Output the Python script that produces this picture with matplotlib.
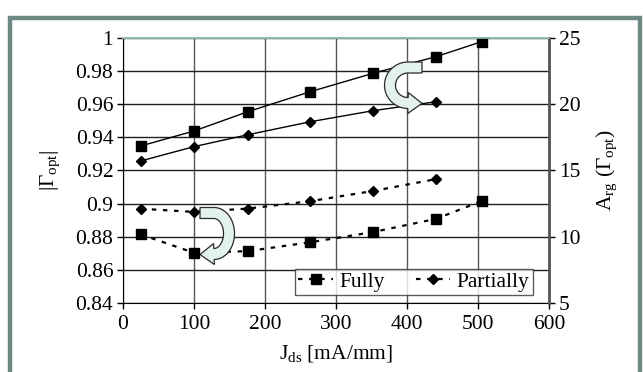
import numpy as np
import matplotlib
matplotlib.use("Agg")
import matplotlib.pyplot as plt
from matplotlib.patches import Rectangle, Polygon
from matplotlib.transforms import IdentityTransform

plt.rcParams['font.family'] = ['Liberation Serif', 'DejaVu Serif']
plt.rcParams['mathtext.fontset'] = 'custom'
plt.rcParams['mathtext.rm'] = 'Liberation Serif'
plt.rcParams['mathtext.it'] = 'Liberation Serif:italic'

# current density [mA/mm]
jds_fully = [25, 100, 176, 264, 352, 441, 505]
jds_partial = [25, 100, 176, 264, 352, 441]

# |Gamma_opt| (left axis, dotted)
mag_fully = [0.8814, 0.8703, 0.8713, 0.8767, 0.8828, 0.8908, 0.9015]
mag_partial = [0.8969, 0.8950, 0.8970, 0.9015, 0.9076, 0.9148]

# Arg(Gamma_opt) (right axis, solid)
arg_fully = [16.85, 17.98, 19.44, 20.95, 22.33, 23.59, 24.72]
arg_partial = [15.72, 16.80, 17.70, 18.68, 19.51, 20.19]

x_ticks = [0, 100, 200, 300, 400, 500, 600]
left_ticks = [0.84, 0.86, 0.88, 0.9, 0.92, 0.94, 0.96, 0.98, 1]
left_labels = ['0.84', '0.86', '0.88', '0.9', '0.92', '0.94', '0.96', '0.98', '1']
right_ticks = [5, 10, 15, 20, 25]

FS = 15.5


def curved_arrow(x_tail, cx, cy, rx, ry, a0, a1, w=11, hw=21, hl=14):
    # straight lead-in + thick elliptic arc (a0 -> a1 deg) + head; pixel coords
    t = np.radians(np.linspace(a0, a1, 60))
    ax_ = cx + rx * np.cos(t)
    ay_ = cy + ry * np.sin(t)
    lead_x = np.linspace(x_tail, ax_[0], 8)[:-1]
    lead_y = np.full_like(lead_x, ay_[0])
    x = np.concatenate([lead_x, ax_])
    y = np.concatenate([lead_y, ay_])
    dx = np.gradient(x)
    dy = np.gradient(y)
    n = np.hypot(dx, dy)
    nx, ny = -dy / n, dx / n
    outer = np.column_stack([x + nx * w / 2, y + ny * w / 2])
    inner = np.column_stack([x - nx * w / 2, y - ny * w / 2])
    ux, uy = dx[-1] / n[-1], dy[-1] / n[-1]
    ex, ey = x[-1], y[-1]
    head = np.array([
        [ex + nx[-1] * hw / 2, ey + ny[-1] * hw / 2],
        [ex + ux * hl, ey + uy * hl],
        [ex - nx[-1] * hw / 2, ey - ny[-1] * hw / 2],
    ])
    pts = np.vstack([outer, head, inner[::-1]])
    return Polygon(pts, closed=True, transform=IdentityTransform(),
                   fc='#e3f2eb', ec='#2a2a2a', lw=0.9, zorder=5)


fig = plt.figure(figsize=(6.43, 3.72), dpi=100)
ax = fig.add_axes([0.1913, 0.1855, 0.6625, 0.7124])
ax2 = ax.twinx()

dots = (0, (2, 3))
l1, = ax.plot(jds_fully, mag_fully, color='black', ls=dots, lw=1.6,
              marker='s', ms=7, label='Fully')
l2, = ax.plot(jds_partial, mag_partial, color='black', ls=dots, lw=1.6,
              marker='D', ms=5.5, label='Partially')
ax2.plot(jds_fully, arg_fully, color='black', lw=1, marker='s', ms=7)
ax2.plot(jds_partial, arg_partial, color='black', lw=1, marker='D', ms=5.5)

ax.set_xlim(0, 600)
ax.set_ylim(0.84, 1)
ax2.set_ylim(5, 25)
ax.set_xticks(x_ticks)
ax.set_yticks(left_ticks)
ax.set_yticklabels(left_labels)
ax2.set_yticks(right_ticks)

ax.grid(True, axis='y', color='#202020', lw=1)
ax.grid(True, axis='x', color='#555555', lw=1)
ax.set_axisbelow(True)

for a in (ax, ax2):
    a.tick_params(labelsize=FS, length=4, width=1, direction='out', pad=3)
    a.spines['top'].set_color('#8dbab0')
    a.spines['top'].set_linewidth(1.2)
ax.tick_params(axis='x', pad=5)
ax.spines['right'].set_visible(False)
ax2.spines['left'].set_visible(False)
ax2.spines['right'].set_color('#555555')
ax2.spines['right'].set_linewidth(2)
ax2.spines['bottom'].set_visible(False)

ax.set_xlabel('J$_{\\mathrm{ds}}$ [mA/mm]', fontsize=FS, labelpad=6)
ax.set_ylabel('|Γ$_{\\mathrm{opt}}$|', fontsize=FS, labelpad=10)
ax2.set_ylabel('A$_{\\mathrm{rg}}$ (Γ$_{\\mathrm{opt}}$)', fontsize=FS, labelpad=10)

# curved arrows pointing to the axis each pair belongs to (pixel coords, origin bottom-left)
fig.patches.append(curved_arrow(422, 408, 372 - 85.25, 18, 17.75, 90, 270))
fig.patches.append(curved_arrow(200, 214, 372 - 233.5, 15, 20.5, 90, -90))

leg = ax2.legend(handles=[l1, l2], loc='lower left', bbox_to_anchor=(0.404, 0.03, 0.558, 0.115),
                 mode='expand', ncol=2, fontsize=FS, frameon=True, fancybox=False,
                 borderpad=0.15, handlelength=1.6, handletextpad=0.3,
                 columnspacing=1.0, borderaxespad=0)
leg.get_frame().set_edgecolor('#333333')
leg.get_frame().set_linewidth(1)
leg.set_zorder(6)

# outer frame
fig.patches.append(Rectangle((9.5 / 643, -0.1), 630 / 643, (364 - 9.5) / 372 + 0.1,
                             transform=fig.transFigure, fill=False,
                             ec='#6f8a84', lw=3.2))

fig.savefig('out.png', dpi=100)
